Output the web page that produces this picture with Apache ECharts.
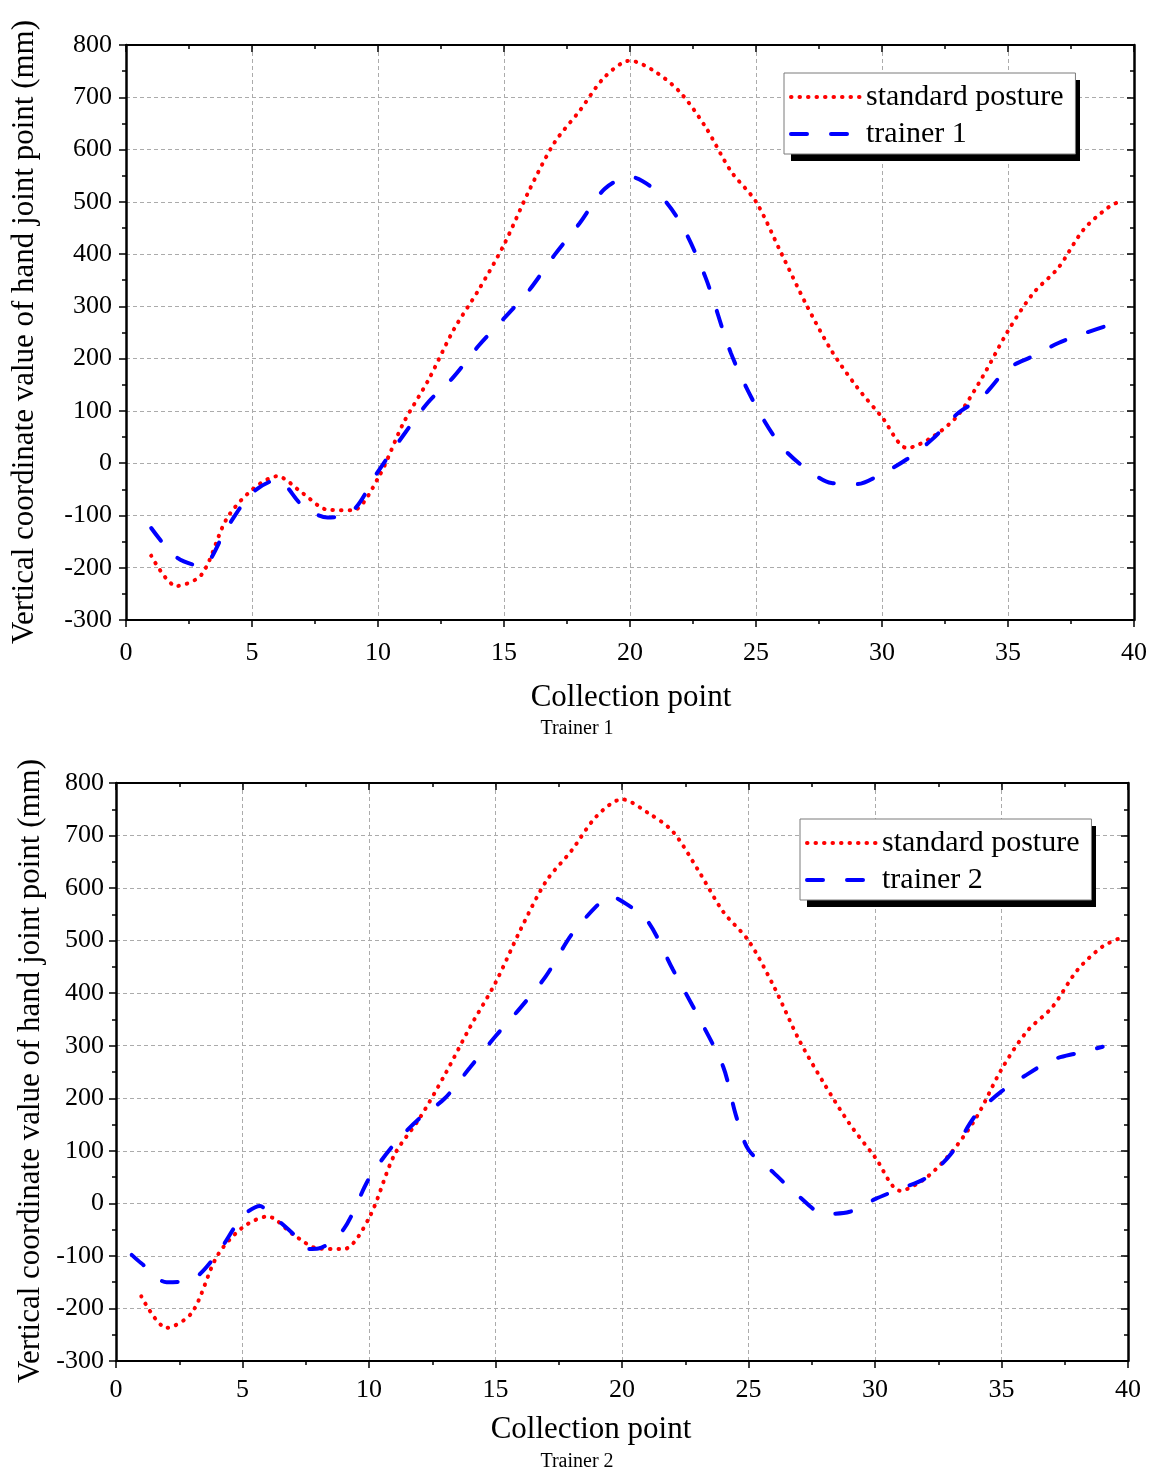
<!DOCTYPE html>
<html>
<head>
<meta charset="utf-8">
<script src="https://cdn.jsdelivr.net/npm/echarts@6/dist/echarts.min.js"></script>
<style>
html,body{margin:0;padding:0;background:#fff;}
#chart{width:1153px;height:1474px;}
</style>
</head>
<body>
<div id="chart"></div>
<script>
// ---------- Data ----------
const xTicks = [0, 5, 10, 15, 20, 25, 30, 35, 40];
const yTicks = [-300, -200, -100, 0, 100, 200, 300, 400, 500, 600, 700, 800];

// Trainer 1 panel
const xStd1 = [1,2,3,4,5,6,7,8,9,10,11,12,13,14,15,16,17,18,19,20,21,22,23,24,25,26,27,28,29,30,31,32,33,34,35,36,37,38,39,39.55];
const std1  = [-177,-235,-213,-106,-51,-25,-57,-89,-90,-29,76,159,255,332,418,522,613,674,739,770,749,709,643,559,500,402,303,215,146,88,29,50,91,166,253,325,374,447,490,503];
const xTr1  = [1,2,3,4,5,6,7,8,9,10,11,12,13,14,15,16,17,18,19,20,21,22,23,24,25,26,27,28,29,30,31,32,33,34,35,36,37,38,39,39.4];
const tr1   = [-124,-180,-197,-124,-57,-32,-81,-104,-91,-16,53,117,165,225,277,331,398,459,525,548,522,460,355,211,109,33,-11,-38,-40,-20,8,46,95,128,181,205,230,248,264,268];

// Trainer 2 panel
const xStd2 = [1,2,3,4,5,6,7,8,9,10,11,12,13,14,15,16,17,18,19,20,21,22,23,24,25,26,27,28,29,30,31,32,33,34,35,36,37,38,39,39.75];
const std2  = [-177,-237,-208,-100,-46,-25,-59,-86,-87,-28,92,162,245,336,420,522,613,671,737,769,744,708,635,555,500,413,311,227,151,88,24,48,96,163,255,327,373,444,489,506];
const xTr2  = [0.62,1,2,3,4,5,5.7,6,7,7.5,8,9,10,11,12,13,14,15,16,17,18,19,19.5,20,21,22,23,24,24.5,25,26,27,28,29,30,31,32,33,34,35,36,37,38,39];
const tr2   = [-98,-114,-150,-145,-96,-25,-5,-16,-58,-87,-86,-49,47,113,162,200,259,318,373,433,511,566,585,575,538,446,357,260,168,102,58,13,-20,-16,8,28,48,94,169,213,245,273,286,298];

const seriesNames1 = ['standard posture', 'trainer 1'];
const seriesNames2 = ['standard posture', 'trainer 2'];

function pairs(xs, ys) { return xs.map((x, i) => [x, ys[i]]); }

// ---------- Styling ----------
const FONT = 'Liberation Serif';
const RED = '#ff0000';
const BLUE = '#0000ff';
const GRIDCOL = '#ababab';

const grids = [
  { left: 126, top: 45, width: 1008, height: 575 },
  { left: 116, top: 783, width: 1012, height: 578 }
];

function mainX(gi, margin) {
  return {
    type: 'value', gridIndex: gi, position: 'bottom',
    min: xTicks[0], max: xTicks[xTicks.length - 1], interval: xTicks[1] - xTicks[0],
    axisLine: { show: true, onZero: false, lineStyle: { color: '#000', width: 2 } },
    axisTick: { show: true, inside: false, length: 7, lineStyle: { color: '#000', width: 1.5 } },
    minorTick: { show: true, splitNumber: 2, length: 4, lineStyle: { color: '#000', width: 1.5 } },
    axisLabel: { show: true, margin: margin, color: '#000', fontFamily: FONT, fontSize: 26 },
    splitLine: { show: true, lineStyle: { color: GRIDCOL, width: 1, type: [4, 3] } },
    minorSplitLine: { show: false }
  };
}
function mirrorX(gi) {
  return {
    type: 'value', gridIndex: gi, position: 'top',
    min: xTicks[0], max: xTicks[xTicks.length - 1], interval: xTicks[1] - xTicks[0],
    axisLine: { show: true, onZero: false, lineStyle: { color: '#000', width: 2 } },
    axisTick: { show: true, inside: true, length: 7, lineStyle: { color: '#000', width: 1.5 } },
    minorTick: { show: true, splitNumber: 2, length: 4, lineStyle: { color: '#000', width: 1.5 } },
    axisLabel: { show: false },
    splitLine: { show: false }
  };
}
function mainY(gi, margin) {
  return {
    type: 'value', gridIndex: gi, position: 'left',
    min: yTicks[0], max: yTicks[yTicks.length - 1], interval: yTicks[1] - yTicks[0],
    axisLine: { show: true, onZero: false, lineStyle: { color: '#000', width: 2.5 } },
    axisTick: { show: true, inside: false, length: 7, lineStyle: { color: '#000', width: 1.5 } },
    minorTick: { show: true, splitNumber: 2, length: 4, lineStyle: { color: '#000', width: 1.5 } },
    axisLabel: { show: true, margin: margin, color: '#000', fontFamily: FONT, fontSize: 26 },
    splitLine: { show: true, lineStyle: { color: GRIDCOL, width: 1, type: [4, 3] } }
  };
}
function mirrorY(gi) {
  return {
    type: 'value', gridIndex: gi, position: 'right',
    min: yTicks[0], max: yTicks[yTicks.length - 1], interval: yTicks[1] - yTicks[0],
    axisLine: { show: true, onZero: false, lineStyle: { color: '#000', width: 2.5 } },
    axisTick: { show: true, inside: true, length: 7, lineStyle: { color: '#000', width: 1.5 } },
    minorTick: { show: true, splitNumber: 2, length: 4, lineStyle: { color: '#000', width: 1.5 } },
    axisLabel: { show: false },
    splitLine: { show: false }
  };
}

const dotStyle = { color: RED, width: 4, type: [0.5, 8], cap: 'round' };
const dashStyle = { color: BLUE, width: 4, type: [16, 24], cap: 'round' };

function lineSeries(name, xi, yi, data, style) {
  return {
    name: name, type: 'line', xAxisIndex: xi, yAxisIndex: yi,
    data: data, smooth: 0.3, symbol: 'none', showSymbol: false,
    lineStyle: style, itemStyle: { color: style.color },
    animation: false, z: 2
  };
}

function legendBox(names, left, top) {
  return {
    data: names, orient: 'vertical', left: left, top: top,
    itemWidth: 70, itemHeight: 14, itemGap: 7,
    padding: [9, 12, 5, 5],
    backgroundColor: '#fff', borderColor: '#7a7a7a', borderWidth: 1,
    itemStyle: { opacity: 0 },
    lineStyle: { width: 4 },
    textStyle: { color: '#000', fontFamily: FONT, fontSize: 30, lineHeight: 30 },
    selectedMode: false, z: 5
  };
}

function txt(text, x, y, size, rot) {
  return {
    type: 'text', x: x, y: y, rotation: rot || 0, z: 10,
    style: { text: text, fill: '#000', font: size + 'px "' + FONT + '"',
             textAlign: 'center', textVerticalAlign: 'middle', align: 'center', verticalAlign: 'middle' }
  };
}

const option = {
  backgroundColor: '#fff',
  animation: false,
  grid: grids,
  xAxis: [mainX(0, 20), mirrorX(0), mainX(1, 16), mirrorX(1)],
  yAxis: [mainY(0, 14), mirrorY(0), mainY(1, 12), mirrorY(1)],
  legend: [legendBox(seriesNames1, 784, 73), legendBox(seriesNames2, 800, 819)],
  series: [
    lineSeries(seriesNames1[0], 0, 0, pairs(xStd1, std1), dotStyle),
    lineSeries(seriesNames1[1], 0, 0, pairs(xTr1, tr1), dashStyle),
    lineSeries(seriesNames2[0], 2, 2, pairs(xStd2, std2), dotStyle),
    lineSeries(seriesNames2[1], 2, 2, pairs(xTr2, tr2), dashStyle)
  ],
  graphic: [
    { type: 'rect', z: 4, shape: { x: 791, y: 80, width: 289, height: 81 }, style: { fill: '#000' } },
    { type: 'rect', z: 4, shape: { x: 807, y: 826, width: 289, height: 81 }, style: { fill: '#000' } },
    txt('Vertical coordinate value of hand joint point (mm)', 25, 332, 31, Math.PI / 2),
    txt('Collection point', 631, 698, 31),
    txt('Trainer 1', 577, 729, 20),
    txt('Vertical coordinate value of hand joint point (mm)', 31, 1071, 31, Math.PI / 2),
    txt('Collection point', 591, 1430, 31),
    txt('Trainer 2', 577, 1462, 20)
  ]
};

const chart = echarts.init(document.getElementById('chart'), null, { renderer: 'canvas' });
chart.setOption(option);
</script>
</body>
</html>
